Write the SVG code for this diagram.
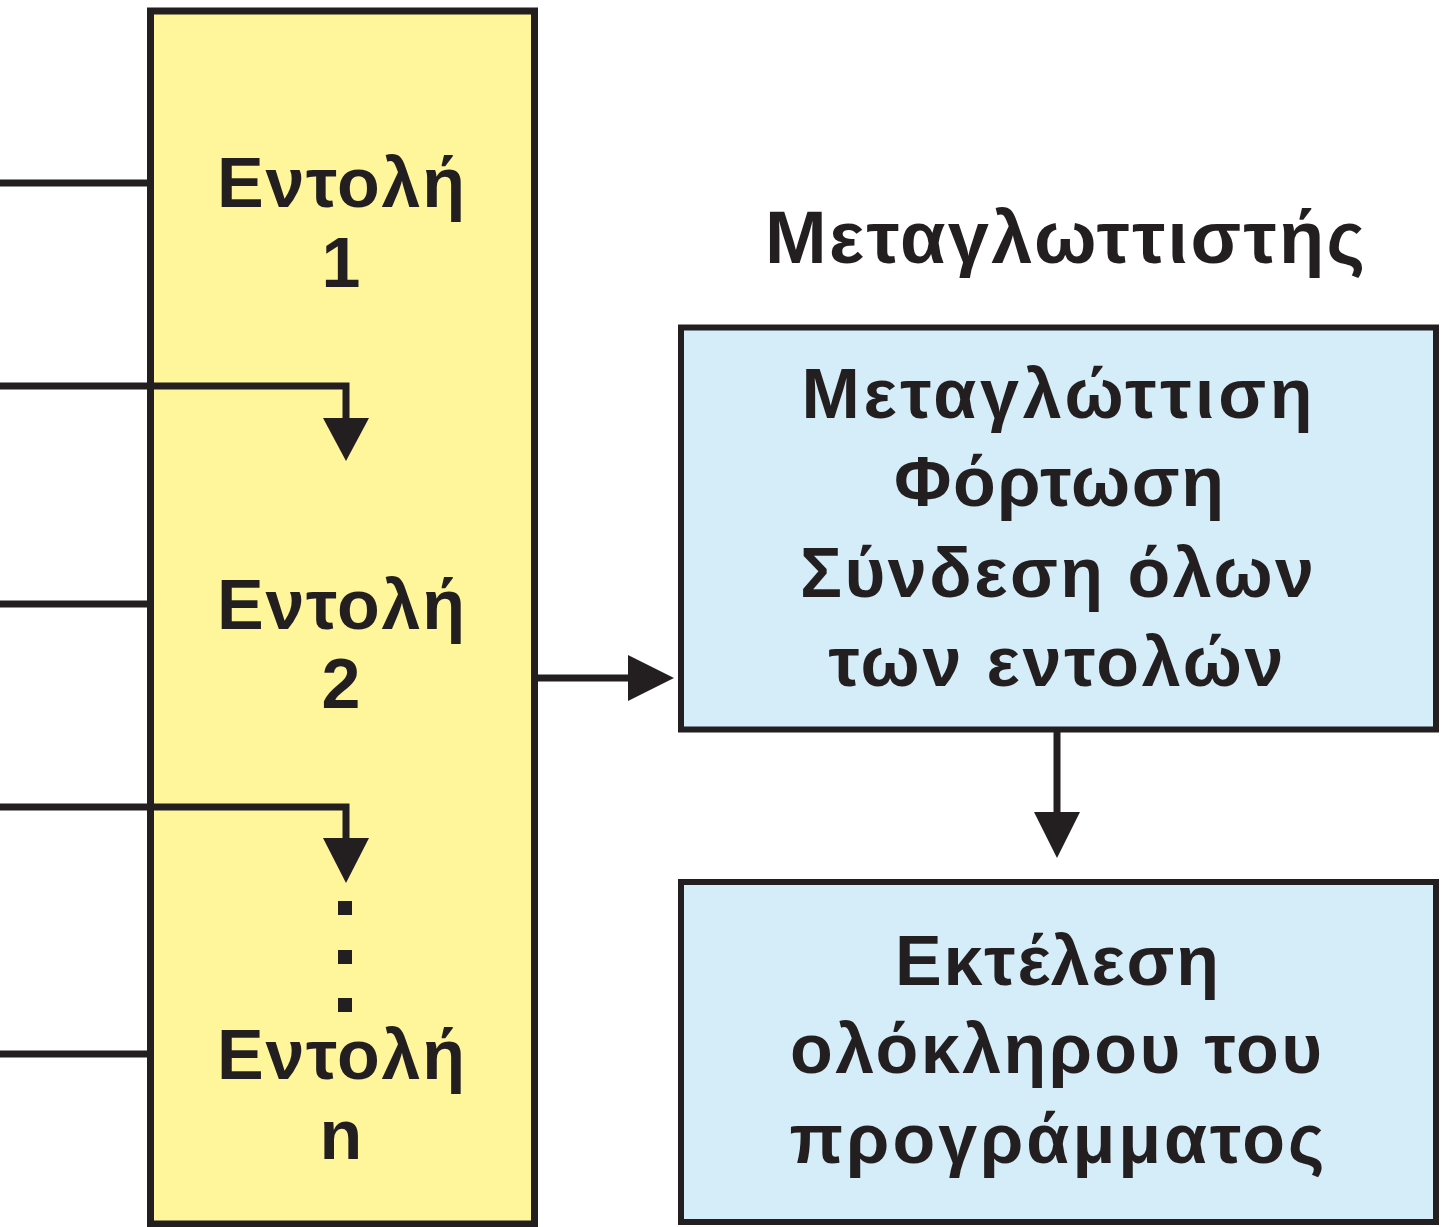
<svg xmlns="http://www.w3.org/2000/svg" width="1442" height="1227" viewBox="0 0 1442 1227">
  <defs>
    <style>
      .box-y { fill: #fff59b; stroke: #231f20; stroke-width: 7; }
      .box-b { fill: #d5ecf9; stroke: #231f20; stroke-width: 6; }
      .line { fill: none; stroke: #231f20; stroke-width: 7; }
      .head { fill: #231f20; }
      .t { font-family: "Liberation Sans", Arial, sans-serif; font-weight: bold; fill: #231f20; text-anchor: middle; }
      .big { font-size: 70px; }
      .title { font-size: 74px; }
    </style>
  </defs>
  <rect width="1442" height="1227" fill="#ffffff"/>

  <g id="program">
    <rect class="box-y" x="150.5" y="11" width="384" height="1213"/>
    <text class="t big" x="341" y="207" textLength="248" lengthAdjust="spacing">Εντολή</text>
    <text class="t big" x="341" y="287">1</text>
    <text class="t big" x="341" y="629" textLength="248" lengthAdjust="spacing">Εντολή</text>
    <text class="t big" x="341" y="708">2</text>
    <text class="t big" x="341" y="1079" textLength="248" lengthAdjust="spacing">Εντολή</text>
    <text class="t big" x="341" y="1159">n</text>
    <rect class="head" x="338" y="901" width="14" height="14"/>
    <rect class="head" x="338" y="950" width="14" height="14"/>
    <rect class="head" x="338" y="998" width="14" height="14"/>
  </g>

  <g id="compiler-title">
    <text class="t title" x="1065" y="263" textLength="600" lengthAdjust="spacing">Μεταγλωττιστής</text>
  </g>

  <g id="compile">
    <rect class="box-b" x="681" y="327.5" width="755" height="402"/>
    <text class="t big" x="1057" y="418" textLength="511" lengthAdjust="spacing">Μεταγλώττιση</text>
    <text class="t big" x="1059" y="506" textLength="330" lengthAdjust="spacing">Φόρτωση</text>
    <text class="t big" x="1057" y="597" textLength="514" lengthAdjust="spacing">Σύνδεση όλων</text>
    <text class="t big" x="1056" y="686" textLength="455" lengthAdjust="spacing">των εντολών</text>
  </g>

  <g id="execute">
    <rect class="box-b" x="681" y="882" width="755" height="340"/>
    <text class="t big" x="1057" y="985" textLength="324" lengthAdjust="spacing">Εκτέλεση</text>
    <text class="t big" x="1056" y="1073" textLength="532" lengthAdjust="spacing">ολόκληρου του</text>
    <text class="t big" x="1057" y="1163" textLength="535" lengthAdjust="spacing">προγράμματος</text>
  </g>

  <g id="connectors">
    <line class="line" x1="0" y1="183" x2="147" y2="183"/>
    <polyline class="line" points="0,386 346,386 346,420"/>
    <polygon class="head" points="323,418 369,418 346,461"/>
    <line class="line" x1="0" y1="604" x2="147" y2="604"/>
    <polyline class="line" points="0,807 346,807 346,840"/>
    <polygon class="head" points="323,838 369,838 346,883"/>
    <line class="line" x1="0" y1="1054" x2="147" y2="1054"/>
    <line class="line" x1="538" y1="678" x2="630" y2="678"/>
    <polygon class="head" points="628,655 628,701 674,678"/>
    <line class="line" x1="1057" y1="732" x2="1057" y2="815"/>
    <polygon class="head" points="1034,812 1080,812 1057,858"/>
  </g>
</svg>
